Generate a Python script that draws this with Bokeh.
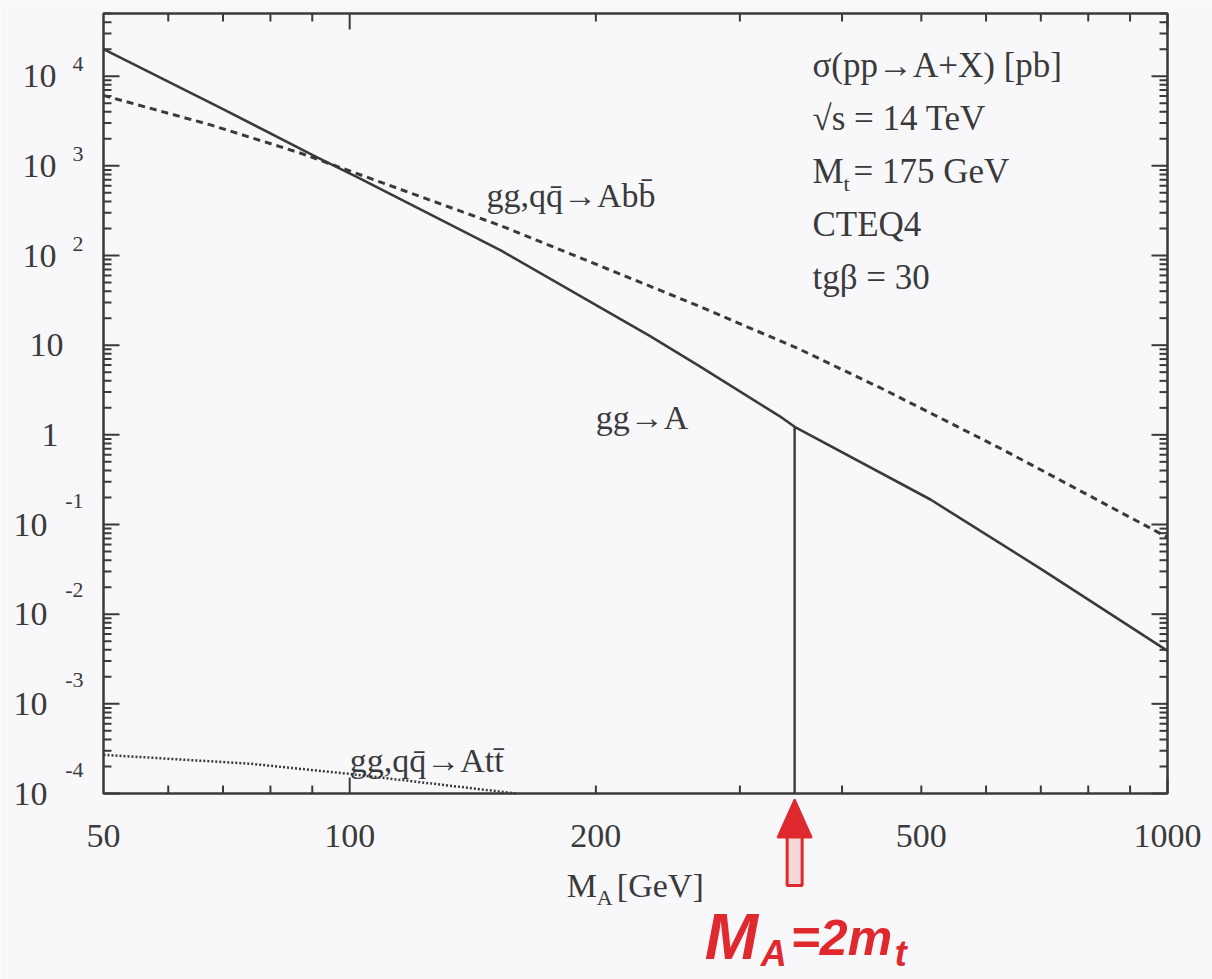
import math
from bokeh.plotting import figure
from bokeh.models import Label
from bokeh.embed import file_html
from bokeh.resources import INLINE

# sigma(pp -> A + X) [pb] at sqrt(s) = 14 TeV, M_t = 175 GeV, CTEQ4, tg(beta) = 30
m_gg = [50, 70, 91, 103, 153, 233, 268, 335, 350, 513, 700, 1000]
sigma_gg = [2.0e4, 4.3e3, 1.26e3, 7.2e2, 1.14e2, 12.6, 5.8, 1.63, 1.23, 0.19, 0.032, 3.9e-3]

m_bb = [50, 67.6, 87, 153, 200, 268, 355, 450, 626, 1000]
sigma_bb = [6.1e3, 2.86e3, 1.39e3, 215, 80, 27, 9.0, 3.2, 0.70, 0.072]

m_tt = [50, 75.5, 99, 160]
sigma_tt = [2.7e-4, 2.15e-4, 1.67e-4, 1.0e-4]

m_threshold = 350  # M_A = 2 m_t

x_label_values = [50, 100, 200, 500, 1000]
x_major = [100, 1000]
x_minor = [60, 70, 80, 90, 200, 300, 400, 500, 600, 700, 800, 900]
y_decades = list(range(-4, 5))

X_MIN, X_MAX = 50, 1000
Y_MIN, Y_MAX = 1e-4, 5e4

INK = "#3a3a3c"
RED = "#e0282f"
BG = "#f8f8fa"
SERIF = "Liberation Serif"

# canvas and the box that holds the curves (pixels from the top-left corner)
W, H = 1212, 979
BOX_L, BOX_R, BOX_T, BOX_B = 103, 1167, 13, 793
PPD_X = (BOX_R - BOX_L) / math.log10(X_MAX / X_MIN)
PPD_Y = (BOX_B - BOX_T) / math.log10(Y_MAX / Y_MIN)
x_range = (X_MIN * 10 ** (-BOX_L / PPD_X), X_MAX * 10 ** ((W - BOX_R) / PPD_X))
y_range = (Y_MIN * 10 ** (-(H - BOX_B) / PPD_Y), Y_MAX * 10 ** (BOX_T / PPD_Y))


def below_axis(px):
    """y value lying px pixels below the bottom edge of the box"""
    return Y_MIN * 10 ** (-px / PPD_Y)


def shift_x(x, px):
    """x value lying px pixels to the right of x"""
    return x * 10 ** (px / PPD_X)


p = figure(width=W, height=H, x_axis_type="log", y_axis_type="log",
           x_range=x_range, y_range=y_range,
           x_axis_location=None, y_axis_location=None,
           output_backend="svg", toolbar_location=None, min_border=0)
p.background_fill_color = BG
p.border_fill_color = BG
p.grid.visible = False
p.outline_line_color = None

y_major = [10.0 ** k for k in y_decades]
y_minor = [j * 10.0 ** k for k in y_decades[:-1] for j in range(2, 10)]
y_minor += [j * 10.0 ** y_decades[-1] for j in range(2, 6)]

# box and inward ticks on all four sides
p.quad(left=[X_MIN], right=[X_MAX], bottom=[Y_MIN], top=[Y_MAX],
       fill_color=None, line_color=INK, line_width=2.5)
for vals, ln in ((y_major, 16), (y_minor, 8)):
    p.ray(x=[X_MIN] * len(vals), y=vals, length=ln, length_units="screen",
          angle=0, line_color=INK, line_width=2)
    p.ray(x=[X_MAX] * len(vals), y=vals, length=ln, length_units="screen",
          angle=math.pi, line_color=INK, line_width=2)
for vals, ln in ((x_major, 16), (x_minor, 8)):
    p.ray(x=vals, y=[Y_MIN] * len(vals), length=ln, length_units="screen",
          angle=math.pi / 2, line_color=INK, line_width=2)
    p.ray(x=vals, y=[Y_MAX] * len(vals), length=ln, length_units="screen",
          angle=-math.pi / 2, line_color=INK, line_width=2)

# curves
p.line(m_bb, sigma_bb, line_color=INK, line_width=3, line_dash="7 5")
p.line(m_tt, sigma_tt, line_color=INK, line_width=2.5, line_dash="2 2")
p.line(m_gg, sigma_gg, line_color=INK, line_width=2.6)
thr_sigma = sigma_gg[m_gg.index(m_threshold)]
p.segment(x0=[m_threshold], y0=[Y_MIN], x1=[m_threshold], y1=[thr_sigma],
          line_color=INK, line_width=2.4)


def text(x, y, s, size=34, dx=0, dy=0, align="left", baseline="alphabetic",
         color=INK, font=SERIF, style="normal"):
    p.add_layout(Label(x=x, y=y, text=s, x_offset=dx, y_offset=dy,
                       text_font=font, text_font_size=f"{size}px",
                       text_align=align, text_baseline=baseline,
                       text_color=color, text_font_style=style))


# y tick labels
for k in y_decades:
    v = 10.0 ** k
    if k == 0:
        text(X_MIN, v, "1", dx=-45, align="right", baseline="middle")
    elif k == 1:
        text(X_MIN, v, "10", dx=-40, align="right", baseline="middle")
    else:
        text(X_MIN, v, "10", dx=-47 if k > 0 else -56, align="right", baseline="middle")
        text(X_MIN, v, str(k), size=22, dx=-20, dy=12 if k > 0 else 24,
             align="right", baseline="middle")

# x tick labels
for v in x_label_values:
    text(v, Y_MIN, str(v), dy=-42, align="center", baseline="middle")

# x axis title
text(200, Y_MIN, "M", dx=-29, dy=-92, baseline="middle")
text(200, Y_MIN, "A", size=22, dx=1, dy=-104, baseline="middle")
text(200, Y_MIN, "[GeV]", dx=21, dy=-92, baseline="middle")

# curve labels
text(147, 360, "gg,qq\u0304\u2192Abb\u0304", dy=10)
text(200, 1.8, "gg\u2192A", dy=-6)
text(100, 1.8e-4, "gg,qq\u0304\u2192Att\u0304", dy=10)

# parameter block
info_x, info_y, step, fs = 368, 1.0e4, 53, 35
text(info_x, info_y, "\u03c3(pp\u2192A+X) [pb]", size=fs, dy=11)
text(info_x, info_y, "\u221as = 14 TeV", size=fs, dy=11 - step)
text(info_x, info_y, "M", size=fs, dy=11 - 2 * step)
text(info_x, info_y, "t", size=22, dx=31, dy=-1 - 2 * step)
text(info_x, info_y, "= 175 GeV", size=fs, dx=41, dy=11 - 2 * step)
text(info_x, info_y, "CTEQ4", size=fs, dy=11 - 3 * step)
text(info_x, info_y, "tg\u03b2 = 30", size=fs, dy=11 - 4 * step)

# hand-drawn threshold marker: hollow shaft and filled head
p.rect(x=[m_threshold], y=[below_axis(67)], width=15, height=50,
       width_units="screen", height_units="screen",
       fill_color="#f6d8da", line_color=RED, line_width=3)
p.patch(x=[shift_x(m_threshold, -17), m_threshold, shift_x(m_threshold, 17)],
        y=[below_axis(44), below_axis(6), below_axis(44)],
        fill_color=RED, line_color=RED, line_width=2)

RED_FONT = "Liberation Sans"
red = dict(color=RED, font=RED_FONT, style="bold italic", baseline="middle")
text(m_threshold, Y_MIN, "M", size=64, dx=-90, dy=-143, **red)
text(m_threshold, Y_MIN, "A", size=36, dx=-34, dy=-160, **red)
text(m_threshold, Y_MIN, "=2m", size=50, dx=-4, dy=-144, **red)
text(m_threshold, Y_MIN, "t", size=36, dx=100, dy=-160, **red)

open("out.html", "w").write(file_html(p, INLINE))
